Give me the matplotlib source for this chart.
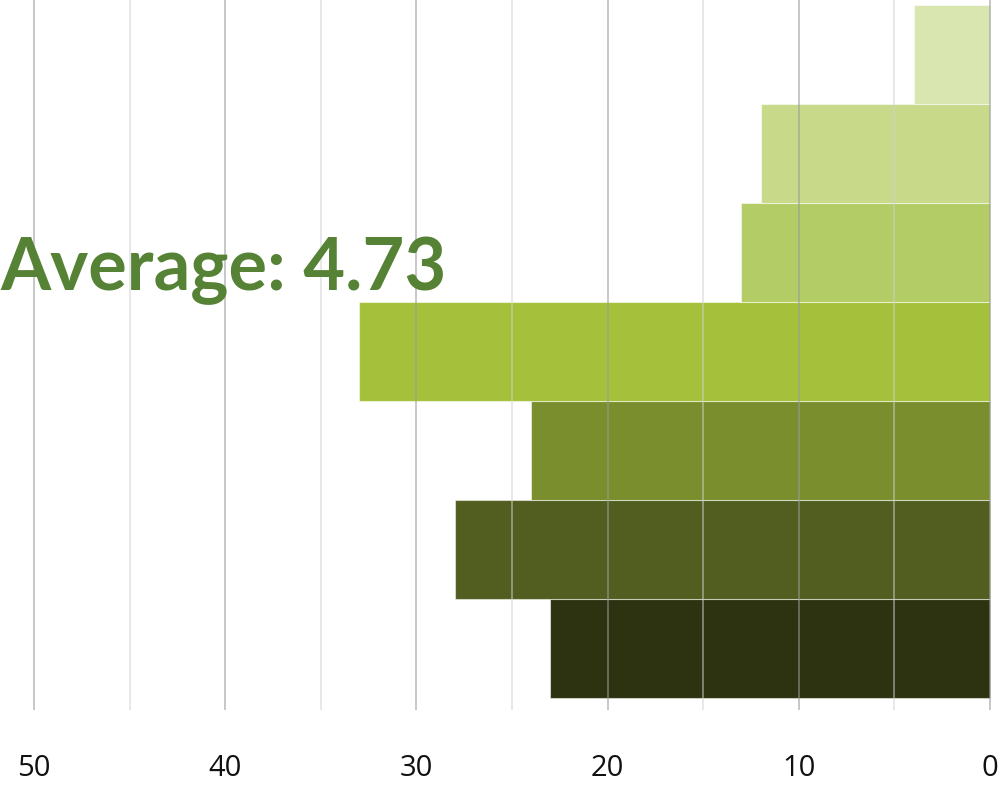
import matplotlib
matplotlib.use("Agg")
import matplotlib.pyplot as plt
from matplotlib.ticker import MultipleLocator

# Data (bottom to top)
categories = ["1", "2", "3", "4", "5", "6", "7"]
values = [23, 28, 24, 33, 13, 12, 4]
colors = ["#2d3210", "#515e1f", "#7a8e2e", "#a5c13b", "#b3cc65", "#c8da89", "#d9e6b0"]
tick_values = [50, 40, 30, 20, 10, 0]
tick_labels = ["50", "40", "30", "20", "10", "0"]
average_text = "Average: 4.73"

W, H = 999, 786
fig = plt.figure(figsize=(W / 100, H / 100), dpi=100)
ax_bottom_px = 710
ax = fig.add_axes([0, 1 - ax_bottom_px / H, 1, ax_bottom_px / H])

ypos = list(range(len(categories)))
ax.barh(ypos, values, height=1.0, color=colors,
        edgecolor=(1, 1, 1, 0.5), linewidth=0.8, zorder=2)

# x mapping: 0 -> px 990, 50 -> px 34
ppu = (990 - 34) / 50
ax.set_xlim(50 + 34 / ppu, -(W - 990) / ppu)
ax.set_ylim(-0.5 - 12 / 99, 6.5 + 5 / 99)

ax.set_xticks(tick_values)
ax.set_xticklabels(tick_labels)
ax.xaxis.set_minor_locator(MultipleLocator(5))
ax.grid(True, which="major", axis="x", color="#9a9a9a", alpha=0.55, linewidth=1.4, zorder=3)
ax.grid(True, which="minor", axis="x", color="#d0d0d0", alpha=0.5, linewidth=1.4, zorder=3)
ax.set_axisbelow(False)
ax.set_yticks([])
for s in ax.spines.values():
    s.set_visible(False)
ax.tick_params(axis="x", which="both", length=0, pad=32, labelsize=21, labelcolor="#111111")
for lab in ax.get_xticklabels():
    lab.set_family("Open Sans")

fig.text(0, 1 - 290 / H, average_text, ha="left", va="baseline",
         fontsize=52, fontweight="bold", color="#558234", family="Lato")

fig.savefig("out.png", dpi=100)
